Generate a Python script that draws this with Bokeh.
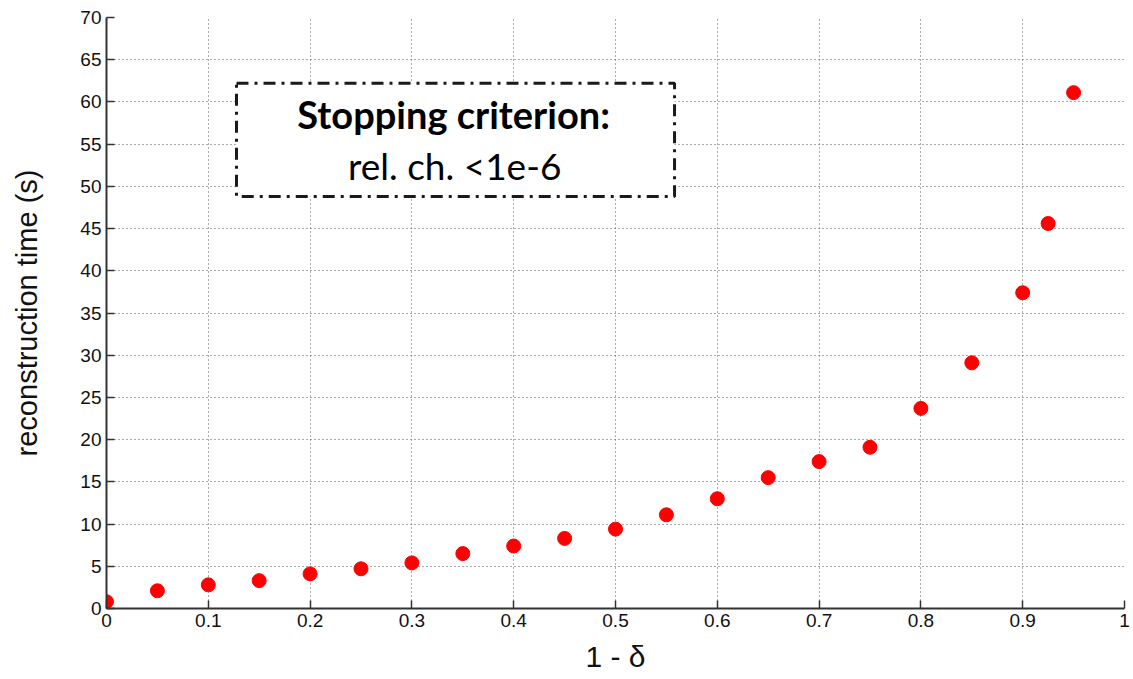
from bokeh.plotting import figure
from bokeh.models import Label, BoxAnnotation, FixedTicker, Range1d
from bokeh.embed import file_html
from bokeh.resources import INLINE

x_vals = [0.0, 0.05, 0.1, 0.15, 0.2, 0.25, 0.3, 0.35, 0.4, 0.45, 0.5,
          0.55, 0.6, 0.65, 0.7, 0.75, 0.8, 0.85, 0.9, 0.925, 0.95]
time_s = [0.8, 2.1, 2.8, 3.3, 4.1, 4.7, 5.4, 6.5, 7.4, 8.3, 9.4,
          11.1, 13.0, 15.5, 17.4, 19.1, 23.7, 29.1, 37.4, 45.6, 61.1]
x_ticks = [0, 0.1, 0.2, 0.3, 0.4, 0.5, 0.6, 0.7, 0.8, 0.9, 1]
y_ticks = [0, 5, 10, 15, 20, 25, 30, 35, 40, 45, 50, 55, 60, 65, 70]
x_tick_labels = {0: "0", 0.1: "0.1", 0.2: "0.2", 0.3: "0.3", 0.4: "0.4", 0.5: "0.5",
                 0.6: "0.6", 0.7: "0.7", 0.8: "0.8", 0.9: "0.9", 1: "1"}

p = figure(width=1133, height=679, output_backend="svg", toolbar_location=None,
           x_range=Range1d(0, 1), y_range=Range1d(0, 70),
           min_border_left=106, min_border_right=9, min_border_top=17, min_border_bottom=71)
p.outline_line_color = None
p.background_fill_color = "white"
p.border_fill_color = "white"

p.scatter(x_vals, time_s, size=14, color="red", line_color="red")

for ax in (p.xaxis[0], p.yaxis[0]):
    ax.major_tick_in = 8
    ax.major_tick_out = 0
    ax.minor_tick_in = 0
    ax.minor_tick_out = 0
    ax.axis_line_color = "#333333"
    ax.axis_line_width = 2
    ax.major_tick_line_color = "#333333"
    ax.major_tick_line_width = 1.5
    ax.major_label_text_font = "Liberation Sans"
    ax.major_label_text_font_size = "19px"
    ax.major_label_text_color = "#111111"
    ax.axis_label_text_font = "Liberation Sans"
    ax.axis_label_text_font_style = "normal"
    ax.axis_label_text_color = "#111111"

p.xaxis.ticker = FixedTicker(ticks=x_ticks)
p.yaxis.ticker = FixedTicker(ticks=y_ticks)
p.xaxis.major_label_overrides = x_tick_labels
p.xaxis.major_label_standoff = 5
p.yaxis.major_label_standoff = 5
p.xaxis.axis_label = "1 - δ"
p.xaxis.axis_label_text_font_size = "30px"
p.xaxis.axis_label_standoff = 10
p.yaxis.axis_label = "reconstruction time (s)"
p.yaxis.axis_label_text_font_size = "29px"
p.yaxis.axis_label_standoff = 34

p.grid.grid_line_color = "#555555"
p.grid.grid_line_dash = "1 3"
p.grid.grid_line_width = 1

box = BoxAnnotation(left=0.1277, right=0.558, bottom=48.8, top=62.2,
                    fill_color="white", fill_alpha=1.0,
                    line_color="#1a1a1a", line_alpha=1.0, line_width=3, line_dash="12 6 3 6")
p.add_layout(box)

p.add_layout(Label(x=0.341, y=58.55, text="Stopping criterion:", text_align="center",
                   text_baseline="alphabetic", text_font="Lato", text_font_style="bold",
                   text_font_size="38px", text_color="black"))
p.add_layout(Label(x=0.342, y=52.5, text="rel. ch. <1e-6", text_align="center",
                   text_baseline="alphabetic", text_font="Lato",
                   text_font_size="37px", text_color="black"))

open("out.html", "w").write(file_html(p, INLINE))
